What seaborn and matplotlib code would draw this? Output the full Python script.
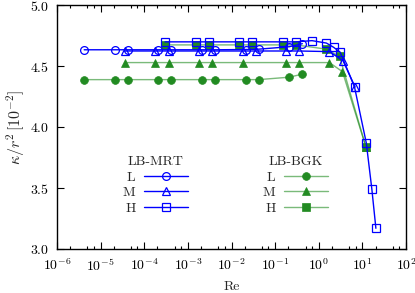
import numpy as np
import pandas as pd
import matplotlib
matplotlib.use("Agg")
import matplotlib.pyplot as plt
import seaborn as sns
from matplotlib.lines import Line2D
from matplotlib.ticker import LogLocator, NullLocator

# values
re_L = [4.2e-6, 2.1e-5, 4.2e-5, 2.1e-4, 4.2e-4, 2.1e-3, 4.2e-3, 2.1e-2, 4.2e-2, 0.21, 0.42]
mrt_L = [4.635, 4.635, 4.635, 4.635, 4.635, 4.635, 4.635, 4.637, 4.64, 4.66, 4.685]
bgk_L = [4.39, 4.39, 4.39, 4.39, 4.39, 4.39, 4.39, 4.39, 4.39, 4.41, 4.435]

re_M_mrt = [3.6e-5, 1.8e-4, 3.6e-4, 1.8e-3, 3.6e-3, 1.8e-2, 3.6e-2, 0.18, 0.35, 1.76, 3.6, 6.8]
mrt_M = [4.625, 4.625, 4.625, 4.625, 4.625, 4.625, 4.625, 4.625, 4.625, 4.62, 4.545, 4.33]

re_M_bgk = [3.6e-5, 1.8e-4, 3.6e-4, 1.8e-3, 3.6e-3, 1.8e-2, 0.18, 0.35, 1.76, 3.5, 12.0]
bgk_M = [4.53, 4.53, 4.53, 4.53, 4.53, 4.53, 4.53, 4.53, 4.53, 4.455, 3.84]

re_H_mrt = [3.0e-4, 1.5e-3, 3.0e-3, 1.5e-2, 3.0e-2, 0.15, 0.30, 0.7, 1.5, 2.2, 3.1, 6.6, 12.3, 16.5, 20.4]
mrt_H = [4.70, 4.70, 4.70, 4.70, 4.70, 4.70, 4.70, 4.71, 4.69, 4.655, 4.615, 4.33, 3.87, 3.49, 3.17]

re_H_bgk = [3.0e-4, 1.5e-3, 3.0e-3, 1.5e-2, 3.0e-2, 0.15, 0.30, 1.5, 3.0, 12.0]
bgk_H = [4.675, 4.675, 4.675, 4.675, 4.675, 4.675, 4.675, 4.64, 4.58, 3.84]

levels = ["L", "M", "H"]

sns.set_style("ticks")
plt.rcParams["font.family"] = ["serif"]
plt.rcParams["font.serif"] = ["cmr10", "DejaVu Serif"]
plt.rcParams["mathtext.fontset"] = "cm"
plt.rcParams["axes.formatter.use_mathtext"] = True
plt.rcParams["font.size"] = 10

blue = "#0000ff"
green = "#228b22"
green_line = (0.13, 0.55, 0.13, 0.6)
ms = 5.6

fig = plt.figure(figsize=(4.15, 2.93), dpi=100)
ax = fig.add_axes([57 / 415, 1 - 249 / 293, (406 - 57) / 415, (249 - 5.3) / 293])

mrt = [(re_L, mrt_L, "o"), (re_M_mrt, mrt_M, "^"), (re_H_mrt, mrt_H, "s")]
bgk = [(re_L, bgk_L, "o"), (re_M_bgk, bgk_M, "^"), (re_H_bgk, bgk_H, "s")]

for x, y, m in mrt:
    sns.lineplot(x=x, y=y, ax=ax, color=blue, lw=1.0, marker=m, markersize=ms,
                 markerfacecolor="none", markeredgecolor=blue, markeredgewidth=0.9,
                 estimator=None, zorder=3)
for x, y, m in bgk:
    sns.lineplot(x=x, y=y, ax=ax, color=green, lw=1.0, marker=m, markersize=ms,
                 markerfacecolor=green, markeredgecolor=green, markeredgewidth=0.5,
                 estimator=None, zorder=2)
# lighter connecting lines for green
for line in ax.get_lines()[3:]:
    line.set_color(green_line)
    line.set_markerfacecolor(green)
    line.set_markeredgecolor(green)

ax.set_xscale("log")
ax.set_xlim(1e-6, 1e2)
ax.set_ylim(3.0, 5.0)
ax.set_yticks([3.0, 3.5, 4.0, 4.5, 5.0])
ax.yaxis.set_minor_locator(NullLocator())
ax.xaxis.set_major_locator(LogLocator(base=10, numticks=20))
ax.xaxis.set_minor_locator(LogLocator(base=10, subs=[2, 5, 7], numticks=20))
ax.tick_params(which="both", direction="in", top=True, right=True, colors="black",
               labelsize=10, width=0.8)
ax.tick_params(which="major", length=5)
ax.tick_params(axis="x", which="major", pad=6)
ax.tick_params(axis="y", which="major", pad=6)
ax.tick_params(which="minor", length=2.5)
for s in ax.spines.values():
    s.set_linewidth(1.0)
    s.set_color("black")

ax.set_xlabel("Re", fontsize=10, labelpad=5)
ax.set_ylabel(r"$\kappa/r^2\,[10^{-2}]$", fontsize=11.5, labelpad=2)

h_mrt = [Line2D([], [], color=blue, lw=1.0, marker=m, markersize=ms,
                markerfacecolor="none", markeredgecolor=blue, markeredgewidth=0.9)
         for m in ["o", "^", "s"]]
h_bgk = [Line2D([], [], color=green_line, lw=1.0, marker=m, markersize=ms,
                markerfacecolor=green, markeredgecolor=green, markeredgewidth=0.5)
         for m in ["o", "^", "s"]]

leg1 = ax.legend(h_mrt, levels, title="LB-MRT", markerfirst=False, frameon=False,
                 handlelength=3.2, handletextpad=0.6, labelspacing=0.2,
                 borderpad=0, fontsize=10, title_fontsize=10,
                 loc="upper left", bbox_to_anchor=(116 / 415, 1 - 149 / 293),
                 bbox_transform=fig.transFigure)
ax.add_artist(leg1)
leg2 = ax.legend(h_bgk, levels, title="LB-BGK", markerfirst=False, frameon=False,
                 handlelength=3.2, handletextpad=0.6, labelspacing=0.2,
                 borderpad=0, fontsize=10, title_fontsize=10,
                 loc="upper left", bbox_to_anchor=(256 / 415, 1 - 149 / 293),
                 bbox_transform=fig.transFigure)

fig.savefig("out.png", dpi=100)
